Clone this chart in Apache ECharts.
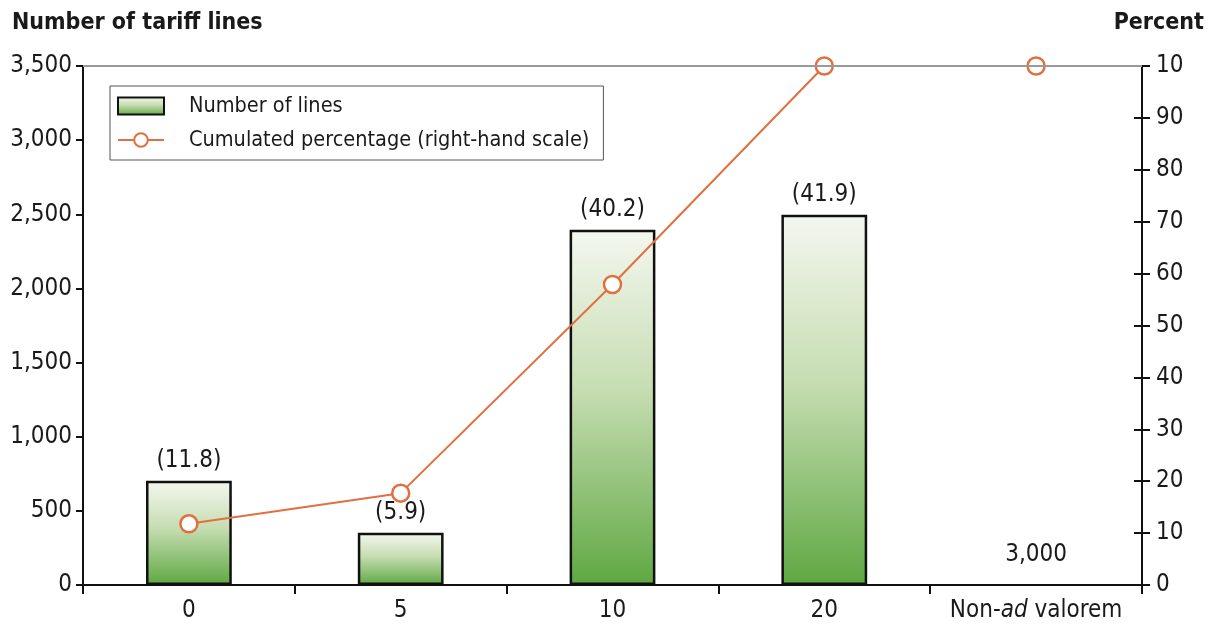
<!DOCTYPE html>
<html>
<head>
<meta charset="utf-8">
<script src="https://cdn.jsdelivr.net/npm/echarts@6/dist/echarts.min.js"></script>
<style>
  html, body { margin: 0; padding: 0; background: #fff; }
  #chart { width: 1226px; height: 630px; }
</style>
</head>
<body>
<div id="chart"></div>
<script>
// Tariff bands on the x axis
const categories = ['0', '5', '10', '20', 'Non-ad valorem'];
// Number of tariff lines in each band
const lineCounts = [703, 352, 2396, 2497, null];
// Share of all lines in each band, printed above the bars
const shareLabels = ['(11.8)', '(5.9)', '(40.2)', '(41.9)', ''];
// Cumulated percentage, read on the right-hand scale
const cumulatedPct = [11.8, 17.7, 57.9, 100, 100];
// Count of non-ad valorem lines, written in place of a bar
const nonAdValoremNote = '3,000';
// Right-hand tick labels as printed
const pctTickLabels = ['0', '10', '20', '30', '40', '50', '60', '70', '80', '90', '10'];

const FONT = '"DejaVu Sans Condensed", "Liberation Sans Narrow", "Liberation Sans", sans-serif';
const TXT = '#1a1a1a';
const ORANGE = '#e0703f';
const FS = 24;

const chart = echarts.init(document.getElementById('chart'), null, { renderer: 'canvas' });

const barFill = new echarts.graphic.LinearGradient(0, 0, 0, 1, [
  { offset: 0, color: '#f4f7ef' },
  { offset: 0.45, color: '#c6ddb2' },
  { offset: 1, color: '#5fa842' }
]);

chart.setOption({
  animation: false,
  backgroundColor: '#fff',
  textStyle: { fontFamily: FONT },
  title: [
    { text: 'Number of tariff lines', left: 7, top: 7,
      textStyle: { fontFamily: FONT, fontSize: 23, fontWeight: 'bold', color: TXT } },
    { text: 'Percent', right: 17, top: 7,
      textStyle: { fontFamily: FONT, fontSize: 23, fontWeight: 'bold', color: TXT } }
  ],
  legend: {
    orient: 'vertical',
    left: 110, top: 86,
    itemWidth: 46, itemHeight: 17, itemGap: 12,
    padding: [9, 14, 9, 7],
    borderColor: '#555', borderWidth: 1,
    textStyle: { fontFamily: FONT, fontSize: 21.5, color: TXT, padding: [0, 0, 0, 20] },
    data: [
      { name: 'Number of lines', icon: 'rect' },
      { name: 'Cumulated percentage (right-hand scale)' }
    ]
  },
  grid: { left: 83, right: 84, top: 66, bottom: 45 },
  xAxis: {
    type: 'category',
    data: categories,
    axisLine: { lineStyle: { color: '#111', width: 2 } },
    axisTick: { show: true, alignWithLabel: false, length: 9, lineStyle: { color: '#111', width: 2 } },
    axisLabel: {
      interval: 0,
      fontFamily: FONT, fontSize: FS, color: TXT, margin: 14,
      formatter: v => v === 'Non-ad valorem' ? 'Non-{i|ad} valorem' : v,
      rich: { i: { fontFamily: FONT, fontSize: FS, fontStyle: 'italic', color: TXT } }
    }
  },
  yAxis: [
    {
      type: 'value', min: 0, max: 3500, interval: 500, position: 'left',
      axisLine: { show: true, lineStyle: { color: '#111', width: 2 } },
      axisTick: { show: true, length: 7, lineStyle: { color: '#111', width: 2 } },
      axisLabel: { fontFamily: FONT, fontSize: FS, color: TXT, margin: 11,
        formatter: v => v.toLocaleString('en-US') },
      splitLine: { show: false }
    },
    {
      type: 'value', min: 0, max: 100, interval: 10, position: 'right',
      axisLine: { show: true, lineStyle: { color: '#111', width: 2 } },
      axisTick: { show: false },
      axisLabel: { fontFamily: FONT, fontSize: FS, color: TXT, margin: 14,
        formatter: v => pctTickLabels[Math.round(v / 10)] },
      splitLine: { show: false }
    },
    {
      // right-hand ticks that cross the axis line
      type: 'value', min: 0, max: 100, interval: 10, position: 'right', offset: 8,
      axisLine: { show: false },
      axisTick: { show: true, inside: true, length: 16, lineStyle: { color: '#111', width: 2 } },
      axisLabel: { show: false },
      splitLine: { show: false }
    }
  ],
  series: [
    {
      name: 'Number of lines',
      type: 'bar',
      yAxisIndex: 0,
      barWidth: '40.5%',
      data: lineCounts,
      itemStyle: { color: barFill, borderColor: '#111', borderWidth: 2.5 },
      label: {
        show: true, position: 'top', distance: 8,
        fontFamily: FONT, fontSize: FS, color: TXT,
        formatter: p => shareLabels[p.dataIndex]
      },
      markLine: {
        silent: true, symbol: 'none', label: { show: false },
        lineStyle: { color: '#9a9a9a', width: 2, type: 'solid' },
        data: [{ yAxis: 3500 }]
      },
      z: 2
    },
    {
      name: 'Cumulated percentage (right-hand scale)',
      type: 'line',
      yAxisIndex: 1,
      data: cumulatedPct,
      symbol: 'circle',
      symbolSize: 17,
      lineStyle: { color: ORANGE, width: 2 },
      itemStyle: { color: '#fff', borderColor: ORANGE, borderWidth: 2.5 },
      z: 3
    }
  ]
});

// Non-ad valorem count written above the empty category
const notePos = chart.convertToPixel({ xAxisIndex: 0, yAxisIndex: 0 }, ['Non-ad valorem', 0]);
chart.setOption({
  graphic: [{
    type: 'text',
    x: notePos[0], y: notePos[1] - 30,
    style: { text: nonAdValoremNote, fontFamily: FONT, fontSize: FS, fill: TXT,
      textAlign: 'center', textVerticalAlign: 'middle' }
  }]
});
</script>
</body>
</html>
